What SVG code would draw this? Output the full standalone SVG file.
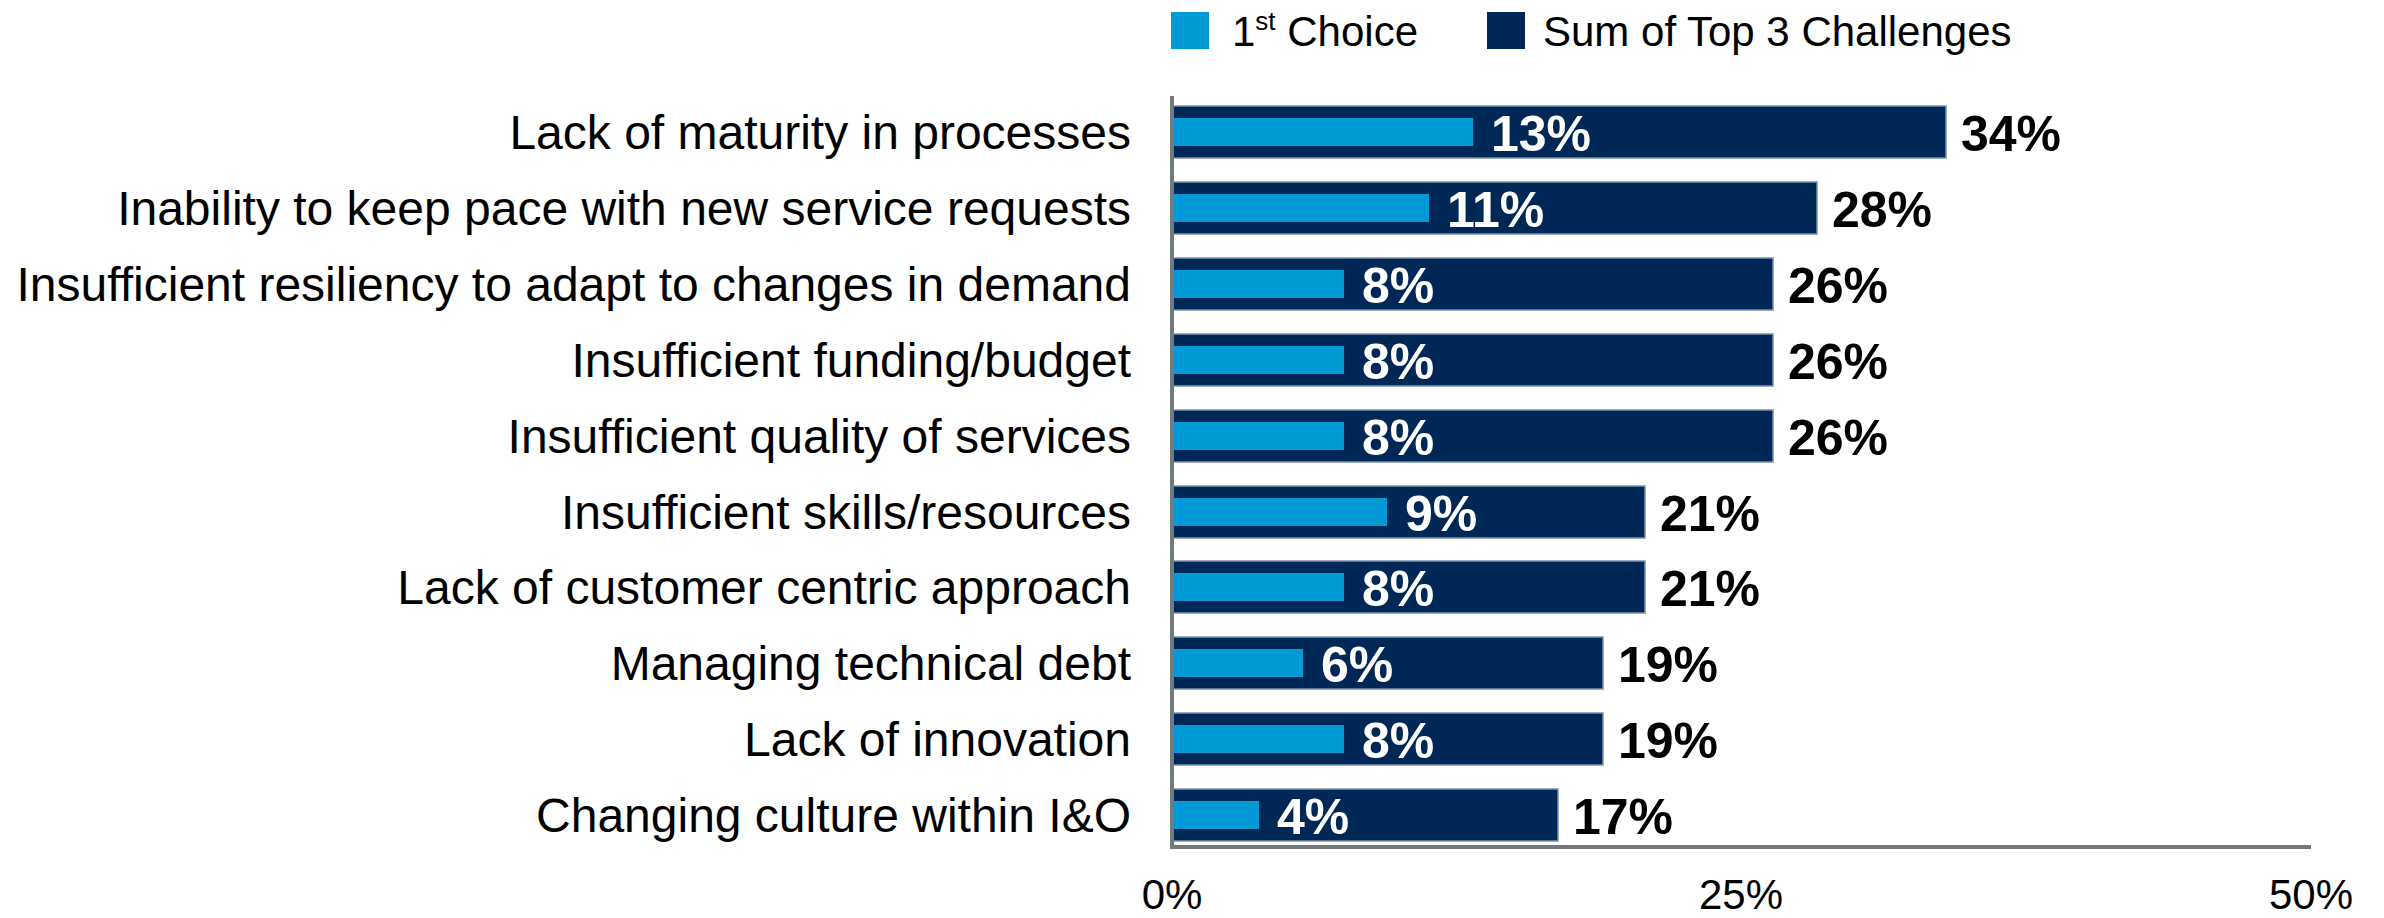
<svg xmlns="http://www.w3.org/2000/svg" width="2384" height="918" viewBox="0 0 2384 918">
<style>
.lbl{font-family:"Liberation Sans",Arial,sans-serif;font-size:48px;fill:#000;text-anchor:end}
.leg{font-family:"Liberation Sans",Arial,sans-serif;font-size:42px;fill:#000}
.tick{font-family:"Liberation Sans",Arial,sans-serif;font-size:42px;fill:#000;text-anchor:middle}
.vin{font-family:"Liberation Sans",Arial,sans-serif;font-size:50px;font-weight:bold;fill:#fff}
.vout{font-family:"Liberation Sans",Arial,sans-serif;font-size:50px;font-weight:bold;fill:#000}
.dark{fill:#002856;stroke:#7d92ad;stroke-width:1.5}
.light{fill:#009ad6}
.axis{stroke:#717b7c;stroke-width:4;fill:none}
</style>
<rect width="2384" height="918" fill="#fff"/>
<g id="legend">
<rect x="1171" y="12" width="38" height="37" class="light"/>
<text class="leg" x="1232" y="46">1<tspan font-size="26" dy="-16">st</tspan><tspan dy="16"> Choice</tspan></text>
<rect x="1487" y="12" width="38" height="37" fill="#002856"/>
<text class="leg" x="1543" y="46">Sum of Top 3 Challenges</text>
</g>
<g id="row1"><text class="lbl" x="1131" y="149">Lack of maturity in processes</text><rect class="dark" x="1172" y="106" width="774" height="52"/><rect class="light" x="1172" y="118" width="301" height="28"/><text class="vin" x="1491" y="151">13%</text><text class="vout" x="1961" y="151">34%</text></g>
<g id="row2"><text class="lbl" x="1131" y="225">Inability to keep pace with new service requests</text><rect class="dark" x="1172" y="182" width="645" height="52"/><rect class="light" x="1172" y="194" width="257" height="28"/><text class="vin" x="1447" y="227">11%</text><text class="vout" x="1832" y="227">28%</text></g>
<g id="row3"><text class="lbl" x="1131" y="301">Insufficient resiliency to adapt to changes in demand</text><rect class="dark" x="1172" y="258" width="601" height="52"/><rect class="light" x="1172" y="270" width="172" height="28"/><text class="vin" x="1362" y="303">8%</text><text class="vout" x="1788" y="303">26%</text></g>
<g id="row4"><text class="lbl" x="1131" y="377">Insufficient funding/budget</text><rect class="dark" x="1172" y="334" width="601" height="52"/><rect class="light" x="1172" y="346" width="172" height="28"/><text class="vin" x="1362" y="379">8%</text><text class="vout" x="1788" y="379">26%</text></g>
<g id="row5"><text class="lbl" x="1131" y="453">Insufficient quality of services</text><rect class="dark" x="1172" y="410" width="601" height="52"/><rect class="light" x="1172" y="422" width="172" height="28"/><text class="vin" x="1362" y="455">8%</text><text class="vout" x="1788" y="455">26%</text></g>
<g id="row6"><text class="lbl" x="1131" y="529">Insufficient skills/resources</text><rect class="dark" x="1172" y="486" width="473" height="52"/><rect class="light" x="1172" y="498" width="215" height="28"/><text class="vin" x="1405" y="531">9%</text><text class="vout" x="1660" y="531">21%</text></g>
<g id="row7"><text class="lbl" x="1131" y="604">Lack of customer centric approach</text><rect class="dark" x="1172" y="561" width="473" height="52"/><rect class="light" x="1172" y="573" width="172" height="28"/><text class="vin" x="1362" y="606">8%</text><text class="vout" x="1660" y="606">21%</text></g>
<g id="row8"><text class="lbl" x="1131" y="680">Managing technical debt</text><rect class="dark" x="1172" y="637" width="431" height="52"/><rect class="light" x="1172" y="649" width="131" height="28"/><text class="vin" x="1321" y="682">6%</text><text class="vout" x="1618" y="682">19%</text></g>
<g id="row9"><text class="lbl" x="1131" y="756">Lack of innovation</text><rect class="dark" x="1172" y="713" width="431" height="52"/><rect class="light" x="1172" y="725" width="172" height="28"/><text class="vin" x="1362" y="758">8%</text><text class="vout" x="1618" y="758">19%</text></g>
<g id="row10"><text class="lbl" x="1131" y="832">Changing culture within I&amp;O</text><rect class="dark" x="1172" y="789" width="386" height="52"/><rect class="light" x="1172" y="801" width="87" height="28"/><text class="vin" x="1277" y="834">4%</text><text class="vout" x="1573" y="834">17%</text></g>
<g id="axes">
<path class="axis" d="M1172 96 V847 H2311"/>
<text class="tick" x="1172" y="909">0%</text>
<text class="tick" x="1741" y="909">25%</text>
<text class="tick" x="2311" y="909">50%</text>
</g>
</svg>
